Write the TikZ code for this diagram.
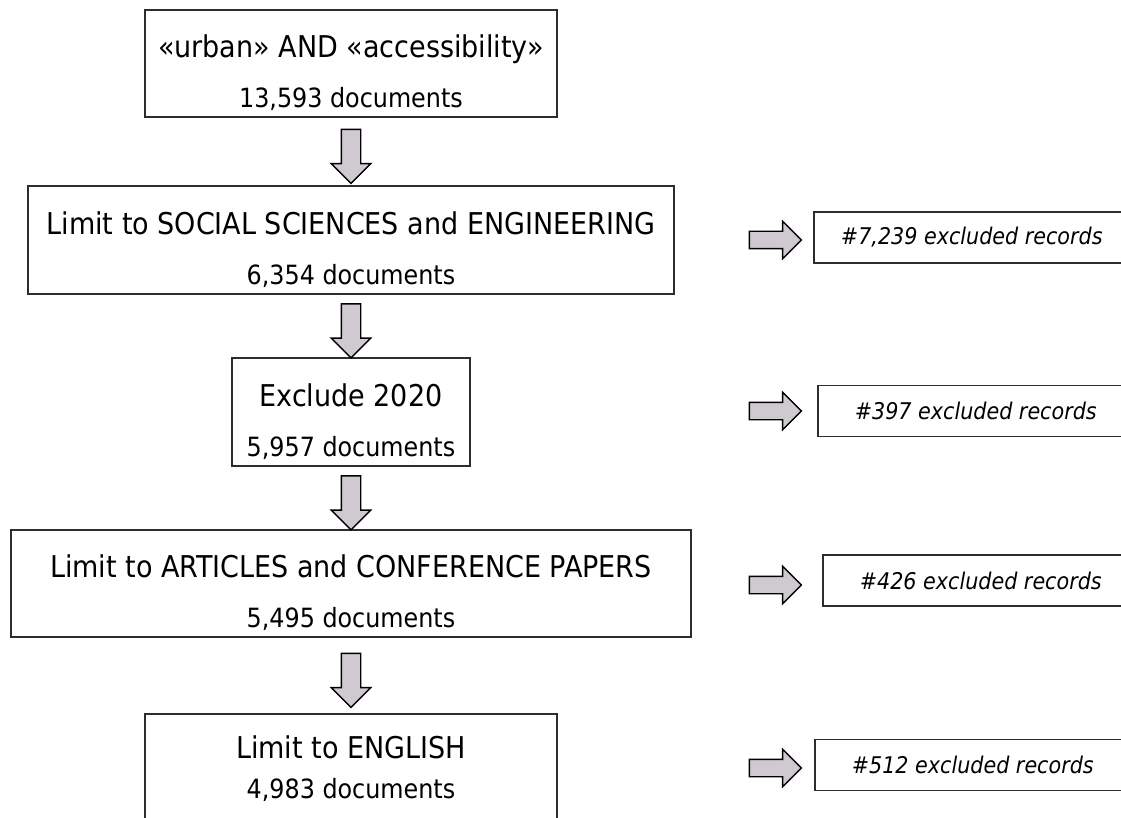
\documentclass[tikz,border=0pt]{standalone}
\usepackage{fontspec}
\setmainfont{DejaVu Sans Condensed}
\usetikzlibrary{shapes.arrows,calc}
\definecolor{arrowgray}{RGB}{207,202,207}
\definecolor{framegray}{RGB}{45,45,45}
\newcommand{\firstgap}{\rule{0pt}{42pt}}
\newcommand{\countline}{\fontsize{26.5}{50}\selectfont}
\begin{document}
\begin{tikzpicture}[x=1pt, y=-1pt,
		stagebox/.style={draw=framegray, line width=1.8pt, align=center, inner sep=0pt,
			font=\fontsize{30}{50}\selectfont},
		dropbox/.style={draw=framegray, line width=1.5pt, minimum height=51pt, minimum width=316pt,
			anchor=west, inner sep=0pt, font=\fontsize{23}{28}\selectfont\itshape},
		downarrow/.style={single arrow, draw=black, fill=arrowgray, line width=1.4pt,
			shape border rotate=270, inner sep=9pt, minimum width=38pt, minimum height=54pt,
			single arrow head extend=10pt},
		rightarrow/.style={single arrow, draw=black, fill=arrowgray, line width=1.4pt,
			inner sep=8pt, minimum width=36pt, minimum height=52pt,
			single arrow head extend=10pt}]
				\clip (0,0) rectangle (1121,818);

				% Manual node positions
				\node[stagebox, minimum width=412pt, minimum height=107pt] (query) at (351,63.5)
					{\firstgap«urban» AND «accessibility»\\\countline 13,593 documents};
				\node[stagebox, minimum width=646pt, minimum height=108pt] (subject) at (351,240)
					{\firstgap Limit to SOCIAL SCIENCES and ENGINEERING\\\countline 6,354 documents};
				\node[stagebox, minimum width=238pt, minimum height=108pt] (year) at (351,412)
					{\firstgap Exclude 2020\\\countline 5,957 documents};
				\node[stagebox, minimum width=680pt, minimum height=107pt] (doctype) at (351,583.5)
					{\firstgap Limit to ARTICLES and CONFERENCE PAPERS\\\countline 5,495 documents};
				\node[stagebox, minimum width=412pt, minimum height=110pt] (language) at (351,769)
					{Limit to ENGLISH\\[-10pt]\countline 4,983 documents};

				\node[dropbox] (dropsubject) at (813,237.5) {\#7,239 excluded records};
				\node[dropbox] (dropyear) at (817,411) {\#397 excluded records};
				\node[dropbox] (droptype) at (822,580.5) {\#426 excluded records};
				\node[dropbox] (droplang) at (814,765) {\#512 excluded records};

				% Connections
				\node[downarrow] (step1) at ($(query.south)!0.5!(subject.north)$) {};
				\node[downarrow] (step2) at ($(subject.south)!0.5!(year.north)$) {};
				\node[downarrow] (step3) at ($(year.south)!0.5!(doctype.north)$) {};
				\node[downarrow] (step4) at ($(doctype.south)!0.5!(language.north)$) {};

				\node[rightarrow] (out1) at (771,240) {};
				\node[rightarrow] (out2) at (771,411) {};
				\node[rightarrow] (out3) at (771,585) {};
				\node[rightarrow] (out4) at (771,768) {};

			\end{tikzpicture}
\end{document}
